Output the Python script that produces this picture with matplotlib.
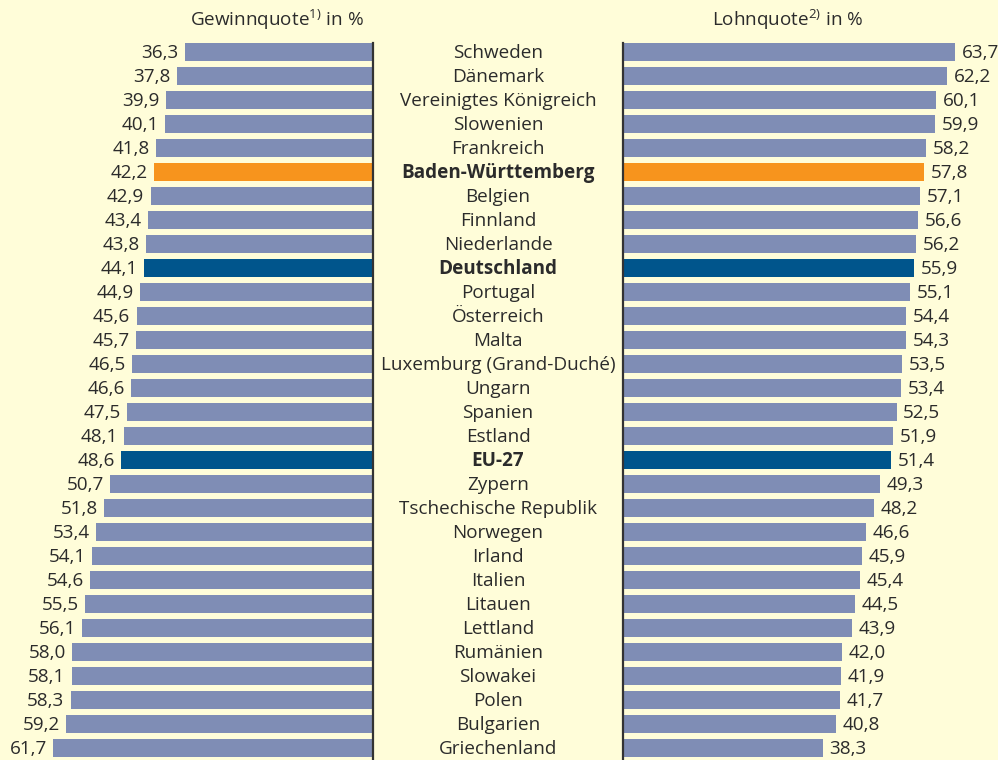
import matplotlib.pyplot as plt
import numpy as np

laender = ["Schweden", "Dänemark", "Vereinigtes Königreich", "Slowenien", "Frankreich",
           "Baden-Württemberg", "Belgien", "Finnland", "Niederlande", "Deutschland",
           "Portugal", "Österreich", "Malta", "Luxemburg (Grand-Duché)", "Ungarn",
           "Spanien", "Estland", "EU-27", "Zypern", "Tschechische Republik",
           "Norwegen", "Irland", "Italien", "Litauen", "Lettland",
           "Rumänien", "Slowakei", "Polen", "Bulgarien", "Griechenland"]
gewinnquote = [36.3, 37.8, 39.9, 40.1, 41.8, 42.2, 42.9, 43.4, 43.8, 44.1,
               44.9, 45.6, 45.7, 46.5, 46.6, 47.5, 48.1, 48.6, 50.7, 51.8,
               53.4, 54.1, 54.6, 55.5, 56.1, 58.0, 58.1, 58.3, 59.2, 61.7]
lohnquote = [63.7, 62.2, 60.1, 59.9, 58.2, 57.8, 57.1, 56.6, 56.2, 55.9,
             55.1, 54.4, 54.3, 53.5, 53.4, 52.5, 51.9, 51.4, 49.3, 48.2,
             46.6, 45.9, 45.4, 44.5, 43.9, 42.0, 41.9, 41.7, 40.8, 38.3]
hervorgehoben = {"Baden-Württemberg": "#F7941D", "Deutschland": "#00558C", "EU-27": "#00558C"}

BG = "#FFFDD9"
BAR = "#7F8DB5"
TXT = "#2B2B2B"
W, H = 998, 760
FS = 13.6
DY = 0.05  # labels sit a touch below bar centre

plt.rcParams['font.family'] = ['Open Sans', 'DejaVu Sans']
plt.rcParams['mathtext.fontset'] = 'custom'
plt.rcParams['mathtext.rm'] = 'Open Sans'
fig = plt.figure(figsize=(W / 100, H / 100), dpi=100, facecolor=BG)

y = np.arange(len(laender))
farben = [hervorgehoben.get(l, BAR) for l in laender]
top_px = 43
ylim = (29.5, -0.375)

# left panel
axl = fig.add_axes([0, 0, 373 / W, 1 - top_px / H])
axl.barh(y, gewinnquote, height=0.75, color=farben)
axl.set_xlim(373 / 5.185, 0)
axl.set_ylim(*ylim)
for yi, v in zip(y, gewinnquote):
    axl.text(v + 1.2, yi + DY, f"{v:.1f}".replace(".", ","), ha="right", va="center",
             fontsize=FS, color=TXT)

# right panel
axr = fig.add_axes([623 / W, 0, 1 - 623 / W, 1 - top_px / H])
axr.barh(y, lohnquote, height=0.75, color=farben)
axr.set_xlim(0, 375 / 5.21)
axr.set_ylim(*ylim)
for yi, v in zip(y, lohnquote):
    axr.text(v + 1.3, yi + DY, f"{v:.1f}".replace(".", ","), ha="left", va="center",
             fontsize=FS, color=TXT)

for ax in (axl, axr):
    ax.set_facecolor("none")
    ax.set_xticks([])
    ax.set_yticks([])
    for s in ax.spines.values():
        s.set_visible(False)
axl.spines["right"].set_visible(True)
axr.spines["left"].set_visible(True)
axl.spines["right"].set_color("#333333")
axr.spines["left"].set_color("#333333")
axl.spines["right"].set_linewidth(1.6)
axr.spines["left"].set_linewidth(1.6)

# country labels in the middle
for yi, l in zip(y, laender):
    axl.text((373 - 498) / 5.185, yi + DY, l, ha="center", va="center",
             fontsize=FS, color=TXT, clip_on=False,
             fontweight="bold" if l in hervorgehoben else "normal")

fig.text(277 / W, 1 - 20 / H, r"Gewinnquote$^{1)}$ in %", ha="center", va="center",
         fontsize=FS, color=TXT)
fig.text(788 / W, 1 - 20 / H, r"Lohnquote$^{2)}$ in %", ha="center", va="center",
         fontsize=FS, color=TXT)

fig.savefig("out.png", dpi=100, facecolor=BG)
